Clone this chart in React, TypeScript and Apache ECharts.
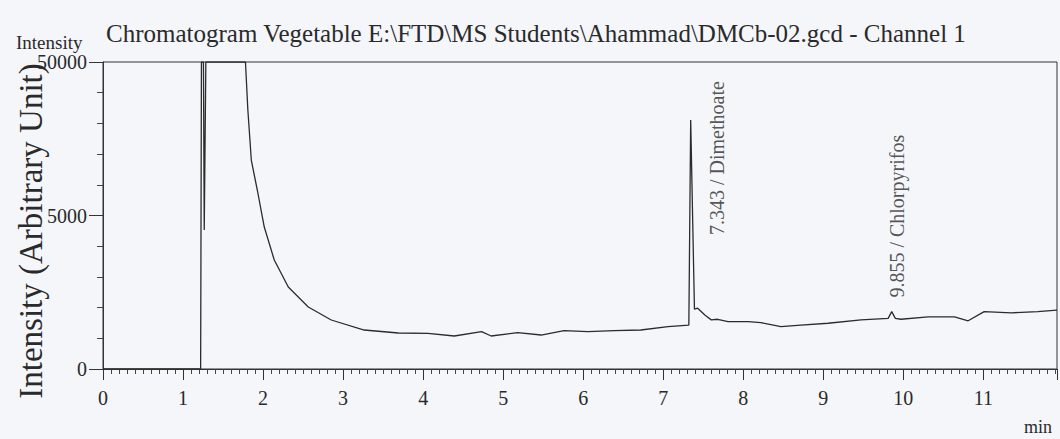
import React, { useEffect, useRef } from "react";
import * as echarts from "echarts";

// Retention time (min) and detector signal
const times = [
  0, 1.22, 1.23, 1.255, 1.265, 1.285, 1.78, 1.81, 1.853, 1.935, 2.015, 2.14, 2.315, 2.565,
  2.852, 3.264, 3.689, 4.06, 4.39, 4.73, 4.85, 5.18, 5.475, 5.76, 6.06, 6.39, 6.72, 7.06,
  7.32, 7.343, 7.39, 7.43, 7.52, 7.6, 7.68, 7.81, 8.06, 8.22, 8.47, 8.72, 9.06, 9.47, 9.81,
  9.855, 9.9, 9.97, 10.31, 10.64, 10.81, 11.01, 11.35, 11.68, 11.92,
];
const intensity = [
  0, 0, 10000, 10000, 4530, 10000, 10000, 8436, 6807, 5733, 4625, 3550, 2671, 2019,
  1596, 1270, 1173, 1163, 1075, 1215, 1075, 1182, 1107, 1247, 1215, 1247, 1270, 1378,
  1430, 8110, 1950, 1980, 1760, 1600, 1620, 1540, 1540, 1510, 1380, 1430, 1490, 1600, 1650,
  1870, 1650, 1620, 1700, 1700, 1570, 1870, 1830, 1870, 1920,
];

// Identified peaks
const peakTimes = [7.343, 9.855];
const peakHeights = [8110, 1870];
const peakNames = ["Dimethoate", "Chlorpyrifos"];

// Tick labels as printed
const xTickLabels = ["0", "1", "2", "3", "4", "5", "6", "7", "8", "9", "10", "11"];
const yTickLabels = ["0", "5000", "50000"];

const titleText =
  "Chromatogram Vegetable E:\\FTD\\MS Students\\Ahammad\\DMCb-02.gcd - Channel 1";

const FONT = "'Liberation Serif', 'Times New Roman', serif";
const INK = "#2a2a2a";

export default function App() {
  const ref = useRef<HTMLDivElement>(null);

  useEffect(() => {
    document.body.style.margin = "0";
    if (!ref.current) return;
    const chart = echarts.init(ref.current, undefined, { renderer: "svg" });

    const lineData = times.map((t, i) => [t, intensity[i]]);
    // offsets are given in the rotated label frame: [-(down), right]
    const labelOffsets = [
      [-115, 26],
      [14, 5],
    ];

    chart.setOption({
      animation: false,
      backgroundColor: "#f4f6fa",
      title: {
        text: titleText,
        left: 101,
        top: 16,
        textStyle: { fontFamily: FONT, fontSize: 25, fontWeight: "normal", color: INK },
      },
      grid: {
        left: 103,
        right: 3,
        top: 62,
        bottom: 70,
        show: true,
        borderColor: "#333",
        borderWidth: 1,
        backgroundColor: "transparent",
      },
      xAxis: {
        type: "value",
        min: 0,
        max: 11.92,
        interval: 1,
        axisLine: { show: true, lineStyle: { color: "#333", width: 1 } },
        axisTick: { show: true, length: 11, lineStyle: { color: "#333" } },
        minorTick: { show: true, splitNumber: 10, length: 5, lineStyle: { color: "#444" } },
        splitLine: { show: false },
        axisLabel: {
          margin: 19,
          showMaxLabel: false,
          fontFamily: FONT,
          fontSize: 20,
          color: INK,
          formatter: (v: number) => {
            const i = Math.round(v);
            return Math.abs(v - i) < 1e-6 && xTickLabels[i] !== undefined ? xTickLabels[i] : "";
          },
        },
      },
      yAxis: {
        type: "value",
        min: 0,
        max: 10000,
        interval: 5000,
        axisLine: { show: true, lineStyle: { color: "#333", width: 1 } },
        axisTick: { show: true, length: 14, lineStyle: { color: "#333" } },
        minorTick: { show: true, splitNumber: 5, length: 6, lineStyle: { color: "#444" } },
        splitLine: { show: false },
        axisLabel: {
          margin: 16,
          fontFamily: FONT,
          fontSize: 20,
          color: INK,
          formatter: (v: number) => {
            const i = Math.round(v / 5000);
            return yTickLabels[i] !== undefined ? yTickLabels[i] : "";
          },
        },
      },
      graphic: [
        {
          type: "text",
          left: 16,
          top: 33,
          style: { text: "Intensity", fontFamily: FONT, fontSize: 19, fill: INK },
        },
        {
          type: "text",
          x: 31,
          y: 231,
          rotation: Math.PI / 2,
          style: {
            text: "Intensity (Arbitrary Unit)",
            fontFamily: FONT,
            fontSize: 33,
            fill: INK,
            align: "center",
            verticalAlign: "middle",
          },
        },
        {
          type: "text",
          x: 1024,
          y: 427,
          style: {
            text: "min",
            fontFamily: FONT,
            fontSize: 18,
            fill: INK,
            align: "left",
            verticalAlign: "middle",
          },
        },
      ],
      series: [
        {
          type: "line",
          data: lineData,
          showSymbol: false,
          symbol: "none",
          lineStyle: { color: "#2b2b2b", width: 1.3 },
          clip: true,
          z: 3,
        },
        {
          type: "scatter",
          symbolSize: 0,
          z: 4,
          data: peakTimes.map((t, i) => ({
            value: [t, peakHeights[i]],
            label: { offset: labelOffsets[i] },
          })),
          label: {
            show: true,
            position: "inside",
            rotate: 90,
            align: "left",
            verticalAlign: "middle",
            fontFamily: FONT,
            fontSize: 20,
            color: INK,
            formatter: (p: any) =>
              `${peakTimes[p.dataIndex].toFixed(3)} / ${peakNames[p.dataIndex]}`,
          },
        },
      ],
    });

    return () => chart.dispose();
  }, []);

  return (
    <div
      ref={ref}
      style={{ position: "absolute", left: 0, top: 0, width: 1060, height: 439 }}
    />
  );
}
